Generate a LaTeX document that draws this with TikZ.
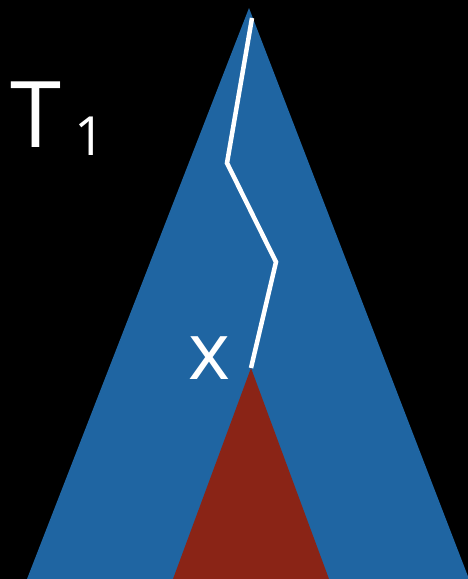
\documentclass[tikz,border=0pt]{standalone}
\usepackage{fontspec}
\setsansfont{Open Sans}
\usetikzlibrary{positioning}

\definecolor{treeblue}{RGB}{31,101,162}
\definecolor{subred}{RGB}{138,36,22}

\begin{document}
\begin{tikzpicture}[
    x=1pt, y=-1pt,
    tree/.style={fill=treeblue, draw=none},
    subtree/.style={fill=subred, draw=none},
    walk/.style={draw=white, line width=4.5pt, line join=miter},
    hand/.style={text=white, font=\sffamily, inner sep=0pt}
]

% fondo negro y marco
\fill[black] (0,0) rectangle (468,579);
\useasboundingbox (0,0) rectangle (468,579);
\clip (0,0) rectangle (468,579);

% ------------------------------------------------------------------------------
% 1. ARBOLES
% ------------------------------------------------------------------------------
\coordinate (root) at (249,8);
\coordinate (x) at (251,368);
\fill[tree] (root) -- (27,579) -- (469,579) -- cycle;
\fill[subtree] (x) -- (173,579) -- (329,579) -- cycle;

% ------------------------------------------------------------------------------
% 2. CAMINO DESDE LA RAIZ
% ------------------------------------------------------------------------------
\coordinate (top) at (252,18);
\coordinate (bendA) at (227,163);
\coordinate (bendB) at (276,262);
\draw[walk] (top) -- (bendA) -- (bendB) -- (x);

% ------------------------------------------------------------------------------
% 3. ETIQUETAS
% ------------------------------------------------------------------------------
\node[hand, font=\sffamily\fontsize{92}{92}\selectfont, anchor=south west] (tname) at (10,148) {T};
\node[hand, font=\sffamily\fontsize{54}{54}\selectfont, anchor=south west] (tidx) at (74,156) {1};
\node[hand, font=\sffamily\fontsize{80}{80}\selectfont, anchor=south] (xlabel) at (209,380) {x};

\end{tikzpicture}
\end{document}
